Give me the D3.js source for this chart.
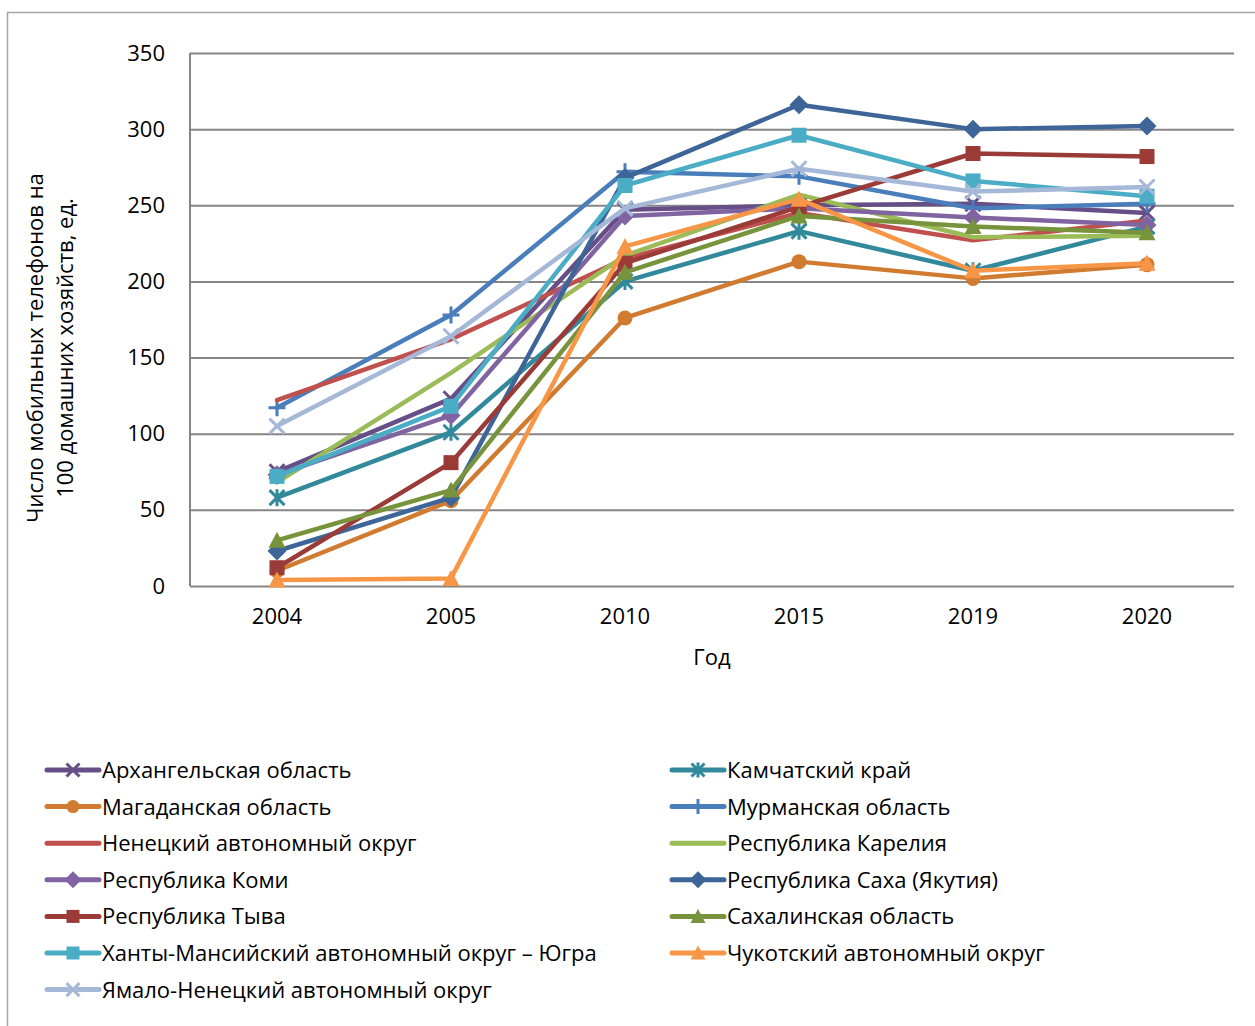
<!DOCTYPE html>
<html>
<head>
<meta charset="utf-8">
<script src="https://cdn.jsdelivr.net/npm/d3@7"></script>
<style>
  body { margin: 0; background: #fff; }
  svg { display: block; font-family: "Open Sans", "Noto Sans", sans-serif; }
</style>
</head>
<body>
<svg id="chart" width="1255" height="1026"></svg>
<script>
// Mobile phones per 100 households, northern regions of Russia
const years = ["2004", "2005", "2010", "2015", "2019", "2020"];
const yTicks = [0, 50, 100, 150, 200, 250, 300, 350];

const arkhangelsk = [75, 123, 247, 250, 251, 245];
const kamchatka   = [58, 101, 200, 233, 207, 236];
const magadan     = [10, 56, 176, 213, 202, 211];
const murmansk    = [117, 178, 272, 269, 248, 251];
const nenets      = [122, 162, 215, 245, 227, 240];
const karelia     = [68, 140, 217, 257, 229, 230];
const komi        = [73, 112, 243, 248, 242, 237];
const sakha       = [23, 58, 268, 316, 300, 302];
const tyva        = [12, 81, 212, 249, 284, 282];
const sakhalin    = [30, 63, 206, 243, 236, 232];
const khanty      = [72, 118, 263, 296, 266, 256];
const chukotka    = [4, 5, 223, 254, 207, 212];
const yamal       = [105, 164, 248, 274, 259, 262];

const seriesNames = [
  "Архангельская область", "Камчатский край",
  "Магаданская область", "Мурманская область",
  "Ненецкий автономный округ", "Республика Карелия",
  "Республика Коми", "Республика Саха (Якутия)",
  "Республика Тыва", "Сахалинская область",
  "Ханты-Мансийский автономный округ – Югра", "Чукотский автономный округ",
  "Ямало-Ненецкий автономный округ"
];
const seriesValues = [arkhangelsk, kamchatka, magadan, murmansk, nenets, karelia,
  komi, sakha, tyva, sakhalin, khanty, chukotka, yamal];
const seriesColors = ["#664E87", "#31899B", "#D07B30", "#4A7EBB", "#C0504D", "#9BBB59",
  "#8064A2", "#3E6597", "#9B3B38", "#77933C", "#4BACC6", "#F79646", "#A5B8D8"];
const seriesMarkers = ["x", "star", "circle", "plus", "none", "none",
  "diamond", "diamond", "square", "triangle", "square", "triangle", "x"];

const series = seriesNames.map((name, i) => ({
  name, values: seriesValues[i], color: seriesColors[i], marker: seriesMarkers[i]
}));

const svg = d3.select("#chart");
const FONT = 22;

// outer frame
svg.append("path")
  .attr("d", "M7.5,1030 V12.5 H1260")
  .attr("fill", "none").attr("stroke", "#A6A6A6").attr("stroke-width", 1.5);

const plot = { left: 190, right: 1234, top: 53, bottom: 586 };

const x = d3.scaleBand().domain(years).range([plot.left, plot.right]);
const xc = d => x(d) + x.bandwidth() / 2;
const y = d3.scaleLinear().domain([0, 350]).range([plot.bottom, plot.top]);

// horizontal gridlines
svg.append("g")
  .attr("transform", `translate(${plot.left},0)`)
  .call(d3.axisLeft(y).tickValues(yTicks).tickSize(-(plot.right - plot.left)).tickFormat(""))
  .call(g => g.select(".domain").remove())
  .call(g => g.selectAll("line").attr("stroke", "#868686").attr("stroke-width", 2));

// vertical axis line
svg.append("line")
  .attr("x1", plot.left).attr("x2", plot.left)
  .attr("y1", plot.top).attr("y2", plot.bottom)
  .attr("stroke", "#868686").attr("stroke-width", 2);

// y tick labels
svg.append("g")
  .attr("transform", `translate(${plot.left},0)`)
  .call(d3.axisLeft(y).tickValues(yTicks).tickSize(0).tickPadding(25))
  .call(g => g.select(".domain").remove())
  .call(g => g.selectAll("text").attr("font-size", FONT).attr("fill", "#000")
    .attr("font-family", "'Open Sans', sans-serif"));

// x tick labels
svg.append("g")
  .attr("transform", `translate(0,${plot.bottom})`)
  .call(d3.axisBottom(x).tickSize(0).tickPadding(22))
  .call(g => g.select(".domain").remove())
  .call(g => g.selectAll("text").attr("font-size", FONT).attr("fill", "#000")
    .attr("font-family", "'Open Sans', sans-serif"));

// axis titles
svg.append("text")
  .attr("x", 712).attr("y", 665)
  .attr("text-anchor", "middle").attr("font-size", FONT).text("Год");

const yTitle = svg.append("text")
  .attr("transform", "translate(0,348) rotate(-90)")
  .attr("text-anchor", "middle").attr("font-size", FONT);
yTitle.append("tspan").attr("x", 0).attr("y", 43).text("Число мобильных телефонов на");
yTitle.append("tspan").attr("x", 0).attr("y", 73).text("100 домашних хозяйств, ед.");

// marker drawing
function drawMarker(g, type, cx, cy, color, s) {
  const h = s / 2;
  if (type === "none") return;
  if (type === "circle") {
    g.append("circle").attr("cx", cx).attr("cy", cy).attr("r", h).attr("fill", color);
  } else if (type === "square") {
    g.append("rect").attr("x", cx - h).attr("y", cy - h).attr("width", s).attr("height", s).attr("fill", color);
  } else if (type === "diamond") {
    g.append("path").attr("d", `M${cx},${cy - h - 2}L${cx + h + 2},${cy}L${cx},${cy + h + 2}L${cx - h - 2},${cy}Z`).attr("fill", color);
  } else if (type === "triangle") {
    g.append("path").attr("d", `M${cx},${cy - h - 1}L${cx + h + 1},${cy + h}L${cx - h - 1},${cy + h}Z`).attr("fill", color);
  } else if (type === "x") {
    g.append("path").attr("d", `M${cx - h},${cy - h}L${cx + h},${cy + h}M${cx + h},${cy - h}L${cx - h},${cy + h}`)
      .attr("stroke", color).attr("stroke-width", 3).attr("fill", "none");
  } else if (type === "star") {
    g.append("path").attr("d", `M${cx - h},${cy - h}L${cx + h},${cy + h}M${cx + h},${cy - h}L${cx - h},${cy + h}M${cx},${cy - h - 1}L${cx},${cy + h + 1}`)
      .attr("stroke", color).attr("stroke-width", 3).attr("fill", "none");
  } else if (type === "plus") {
    g.append("path").attr("d", `M${cx - h - 1},${cy}L${cx + h + 1},${cy}M${cx},${cy - h - 1}L${cx},${cy + h + 1}`)
      .attr("stroke", color).attr("stroke-width", 3).attr("fill", "none");
  }
}

// lines and markers
const line = d3.line().x((d, i) => xc(years[i])).y(d => y(d));
series.forEach(s => {
  const g = svg.append("g");
  g.append("path").datum(s.values).attr("d", line)
    .attr("fill", "none").attr("stroke", s.color).attr("stroke-width", 4.5)
    .attr("stroke-linejoin", "round").attr("stroke-linecap", "round");
  s.values.forEach((v, i) => drawMarker(g, s.marker, xc(years[i]), y(v), s.color, 15));
});

// legend: two columns
const legend = svg.append("g");
series.forEach((s, i) => {
  const col = i % 2, row = Math.floor(i / 2);
  const lx = col === 0 ? 47 : 672;
  const ly = 770 + row * 36.6;
  const g = legend.append("g");
  g.append("line").attr("x1", lx).attr("x2", lx + 52).attr("y1", ly).attr("y2", ly)
    .attr("stroke", s.color).attr("stroke-width", 5).attr("stroke-linecap", "round");
  drawMarker(g, s.marker, lx + 26, ly, s.color, 13);
  g.append("text").attr("x", lx + 55).attr("y", ly + 8).attr("font-size", FONT).attr("fill", "#000").text(s.name);
});
</script>
</body>
</html>
